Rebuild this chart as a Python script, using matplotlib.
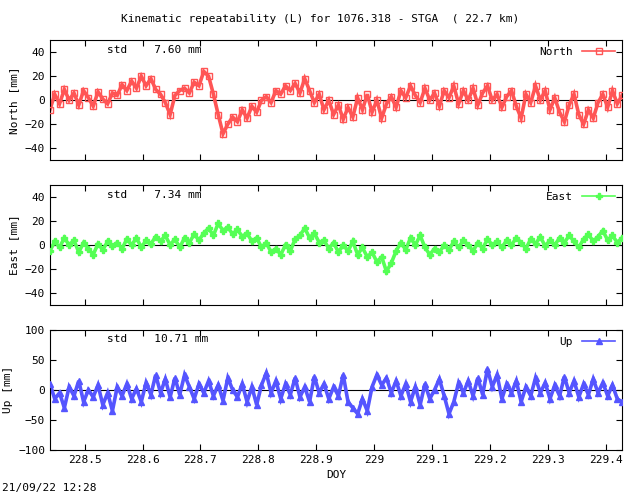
import matplotlib
matplotlib.use("Agg")
import matplotlib.pyplot as plt
import numpy as np

T0, T1 = 228.44, 229.428

NORTH = [-8, 5, -3, 9, 0, 6, -4, 8, 2, -5, 7, 1, -3, 6,
         4, 13, 8, 16, 10, 20, 12, 18, 9,
         5, -2, -12, 4, 8,
         10, 6, 15, 12, 24,
         20, 5, -12, -28, -20,
         -14, -18, -8, -15, -5, -10, 0,
         3, -2, 8, 5, 12, 8, 14, 6, 18,
         8, -2, 5, -8, 0, -12, -4, -16, -6,
         -14, 2, -8, 5, -10, 0, -15, -3,
         3, -6, 8, 2, 12, 4, -2, 10, 0, 6, -5, 8,
         2, 12, -3, 8, 0, 10, -4, 6, 12, 0, 5, -6, 3, 8,
         -5, -15, 5, -2, 12, 0, 8, -8, 2,
         -10, -18, -4, 5, -12, -20, -8, -15, -2,
         5, -6, 8, -3, 4]
EAST = [-5, 3, -2, 6, 0, 4, -6, 2, -3, -8, 1, -4, 3, -1,
        2, -3, 5, 0, 6, -2, 4, 1, 7,
        3, 8, 0, 5, -2, 6, 2, 9, 4, 10,
        14, 8, 18, 12, 15, 9, 13, 7,
        10, 3, 6, -2, 2, -6, -3,
        -8, 0, -5, 5, 8, 14, 6, 10, 2,
        4, -3, 2, -6, 0, -5, 3, -8, -2, -10,
        -6, -14, -10, -22, -15, -5,
        2, -4, 6, 0, 8, -2, -8, -3,
        -6, 0, -4, 3, -2, 4, 0, -5, 2, -3, 5, 0, 3, -2, 4,
        0, 6, 2, -3, 5, 1, 7, -1, 4, 0, 6, 2, 8, 3, -2, 5, 9, 3, 7, 12, 4, 8, 2, 6]
UP = [10, -15, -5, -30, 5, -10, 15, -20, 0, -12, 8, -25, -5, -35,
      5, -10, 10, -15, 2, -20, 12, -8, 25,
      -5, 18, -12, 20, -8, 25, 5, -15, 10, -5,
      15, -10, 8, -18, 20, 0, -12, 10, -20, 5, -25, 8,
      28, -5, 15, -15, 10, -8, 20, -12, 5, -20, 22, -5,
      10, -15, 5, -10, 25, -20, -30, -40, -15, -35,
      5, 25, 8, 20, -5, 15, -10, 10,
      -20, 5, -25, 10, -15, 0, 18, -10, -40, -20, 12, -5,
      15, -10, 20, -8, 35, 5, 25, -15, 10, -5,
      15, -20, 5, -10, 20, -5, 12, -15, 8, -10, 22, -5, 15, -12, 10, -8, 18, -5, 12, -10, 8, -15, -20]

XTICKS = [228.5, 228.6, 228.7, 228.8, 228.9, 229.0, 229.1, 229.2, 229.3, 229.4]
XLABELS = ["228.5", "228.6", "228.7", "228.8", "228.9", "229", "229.1", "229.2", "229.3", "229.4"]

PANELS = [
    ("North", NORTH, "7.60", "#ff5555", "s", [-50, 50], [-40, -20, 0, 20, 40], 0.677),
    ("East", EAST, "7.34", "#55ff55", "P", [-50, 50], [-40, -20, 0, 20, 40], 0.385),
    ("Up", UP, "10.71", "#5555ff", "^", [-100, 100], [-100, -50, 0, 50, 100], 0.093),
]

plt.rcParams["font.family"] = "DejaVu Sans Mono"
fig = plt.figure(figsize=(6.4, 4.96), dpi=100)

for name, values, std, color, marker, ylim, yticks, bottom in PANELS:
    ax = fig.add_axes([0.078, bottom, 0.894, 0.242])
    t = np.linspace(T0, T1, len(values))
    ax.axhline(0, color="black", lw=0.8, zorder=0)
    ax.plot(t, values, color=color, lw=2.6, solid_joinstyle="miter", zorder=2)
    ax.plot(t, values, color=color, lw=0, marker=marker, ms=5,
            mfc=color if marker != "s" else "none", mec=color, mew=1.0, zorder=3)
    ax.plot([], [], color=color, lw=1.2, marker=marker, ms=4,
            mfc=color if marker != "s" else "none", mec=color, label=name)
    ax.set_xlim(T0, T1)
    ax.set_ylim(*ylim)
    ax.set_yticks(yticks)
    ax.set_xticks(XTICKS)
    ax.tick_params(direction="in", top=True, right=True, labelsize=8, length=4)
    if name == "Up":
        ax.set_xticklabels(XLABELS)
        ax.set_xlabel("DOY", fontsize=8)
    else:
        ax.set_xticklabels([])
    ax.set_ylabel(f"{name} [mm]", fontsize=8)
    ax.text(0.1, 0.92, f"std    {std} mm", transform=ax.transAxes, fontsize=8, va="center")
    ax.legend(loc="upper right", frameon=False, fontsize=8, markerfirst=False,
              handlelength=3, borderaxespad=0.2)

fig.text(0.5, 0.955, "Kinematic repeatability (L) for 1076.318 - STGA  ( 22.7 km)",
         ha="center", fontsize=8)
fig.text(0.003, 0.01, "21/09/22 12:28", fontsize=8)
fig.savefig("out.png", dpi=100, facecolor="white")
